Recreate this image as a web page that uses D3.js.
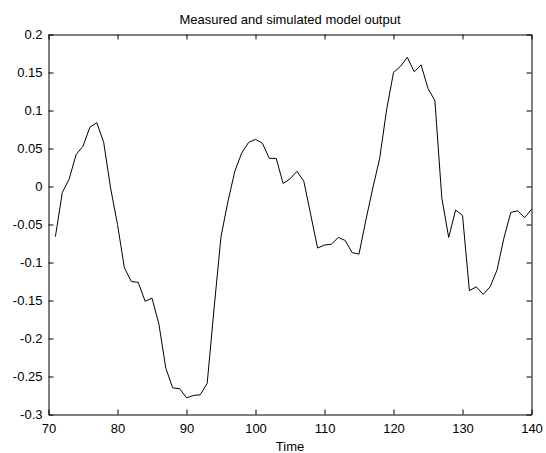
<!DOCTYPE html>
<html lang="en">
<head>
    <meta charset="UTF-8">
    <title>Measured and simulated model output</title>
    <script src="https://d3js.org/d3.v7.min.js"></script>
    <style>
        body {
            margin: 0;
            padding: 0;
            background-color: #fff;
        }
        svg {
            display: block;
            font-family: "Liberation Sans", Arial, sans-serif;
        }
    </style>
</head>
<body>
    <div id="chart"></div>

    <script>
        // Data (one sample per time step)
        const time = [71, 72, 73, 74, 75, 76, 77, 78, 79, 80,
            81, 82, 83, 84, 85, 86, 87, 88, 89, 90,
            91, 92, 93, 94, 95, 96, 97, 98, 99, 100,
            101, 102, 103, 104, 105, 106, 107, 108, 109, 110,
            111, 112, 113, 114, 115, 116, 117, 118, 119, 120,
            121, 122, 123, 124, 125, 126, 127, 128, 129, 130,
            131, 132, 133, 134, 135, 136, 137, 138, 139, 140];
        const output = [-0.066, -0.008, 0.010, 0.042, 0.053, 0.078, 0.084, 0.058, -0.002, -0.050,
            -0.107, -0.125, -0.126, -0.151, -0.147, -0.181, -0.239, -0.265, -0.266, -0.278,
            -0.275, -0.274, -0.259, -0.160, -0.066, -0.020, 0.020, 0.044, 0.058, 0.062,
            0.057, 0.037, 0.037, 0.004, 0.010, 0.020, 0.007, -0.037, -0.081, -0.077,
            -0.076, -0.067, -0.071, -0.087, -0.089, -0.044, -0.002, 0.037, 0.101, 0.150,
            0.158, 0.170, 0.151, 0.160, 0.129, 0.113, -0.015, -0.067, -0.031, -0.038,
            -0.137, -0.132, -0.142, -0.132, -0.110, -0.068, -0.034, -0.032, -0.041, -0.030];

        const xTicks = [70, 80, 90, 100, 110, 120, 130, 140];
        const yTicks = [-0.3, -0.25, -0.2, -0.15, -0.1, -0.05, 0, 0.05, 0.1, 0.15, 0.2];

        const width = 546, height = 453;
        const plotLeft = 48.5, plotRight = 531.5, plotTop = 34.5, plotBottom = 414.5;
        const tickLen = 5;

        const svg = d3.select("#chart")
            .append("svg")
            .attr("width", width)
            .attr("height", height);

        const x = d3.scaleLinear().domain([70, 140]).range([plotLeft, plotRight]);
        const y = d3.scaleLinear().domain([-0.3, 0.2]).range([plotBottom, plotTop]);

        // MATLAB-like number labels (no trailing zeros)
        const fmt = v => String(+v.toFixed(2));

        // axes: labels on bottom/left, inward ticks on all four sides
        svg.append("g")
            .attr("transform", `translate(0,${plotBottom})`)
            .call(d3.axisBottom(x).tickValues(xTicks).tickFormat(fmt).tickSizeInner(-tickLen).tickSizeOuter(0).tickPadding(9));
        svg.append("g")
            .attr("transform", `translate(0,${plotTop})`)
            .call(d3.axisTop(x).tickValues(xTicks).tickFormat("").tickSizeInner(-tickLen).tickSizeOuter(0));
        svg.append("g")
            .attr("transform", `translate(${plotLeft},0)`)
            .call(d3.axisLeft(y).tickValues(yTicks).tickFormat(fmt).tickSizeInner(-tickLen).tickSizeOuter(0).tickPadding(6));
        svg.append("g")
            .attr("transform", `translate(${plotRight},0)`)
            .call(d3.axisRight(y).tickValues(yTicks).tickFormat("").tickSizeInner(-tickLen).tickSizeOuter(0));

        svg.selectAll(".domain").attr("stroke", "#000");
        svg.selectAll(".tick line").attr("stroke", "#000");
        svg.selectAll(".tick text")
            .attr("fill", "#000")
            .attr("font-size", 13)
            .attr("font-family", "Liberation Sans, Arial, sans-serif");

        // the measured line
        const line = d3.line()
            .x((d, i) => x(time[i]))
            .y(d => y(d));

        svg.append("path")
            .datum(output)
            .attr("fill", "none")
            .attr("stroke", "#000")
            .attr("stroke-width", 1)
            .attr("d", line);

        // title and x label
        svg.append("text")
            .attr("x", (plotLeft + plotRight) / 2)
            .attr("y", 24)
            .attr("text-anchor", "middle")
            .attr("font-size", 13)
            .text("Measured and simulated model output");

        svg.append("text")
            .attr("x", (plotLeft + plotRight) / 2)
            .attr("y", 451)
            .attr("text-anchor", "middle")
            .attr("font-size", 13)
            .text("Time");
    </script>
</body>
</html>
